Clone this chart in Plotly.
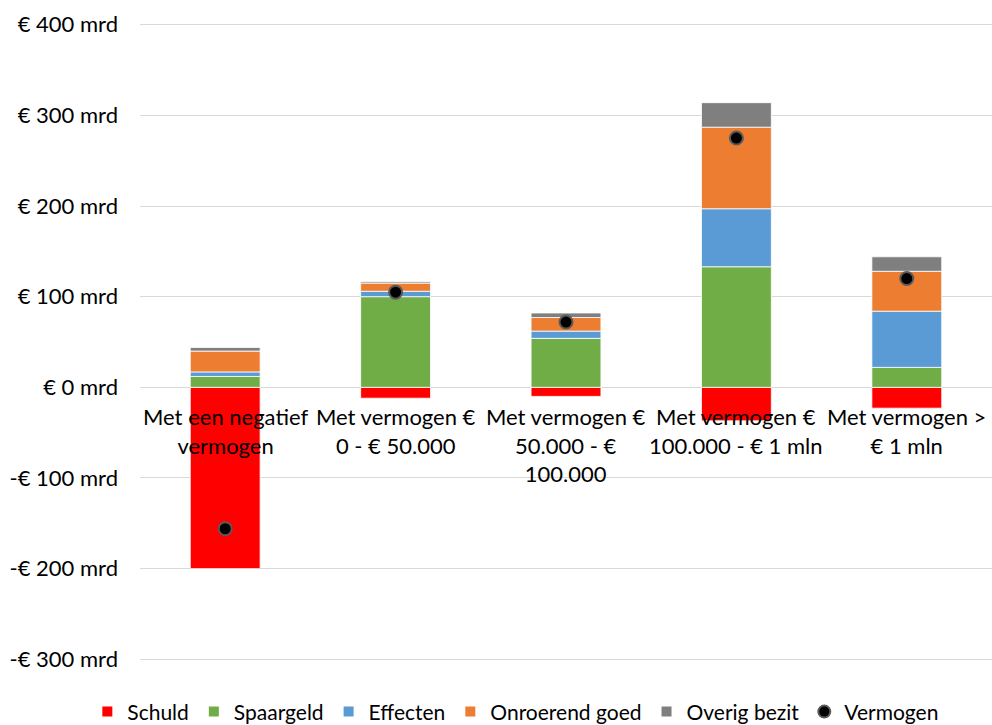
import plotly.graph_objects as go

categories = ["Met een negatief vermogen", "Met vermogen € 0 - € 50.000",
              "Met vermogen € 50.000 - € 100.000", "Met vermogen € 100.000 - € 1 mln",
              "Met vermogen > € 1 mln"]
category_labels = ["Met een negatief<br>vermogen", "Met vermogen €<br>0 - € 50.000",
                   "Met vermogen €<br>50.000 - €<br>100.000", "Met vermogen €<br>100.000 - € 1 mln",
                   "Met vermogen ><br>€ 1 mln"]

schuld = [-200, -12, -10, -37, -23]
spaargeld = [12, 100, 54, 133, 22]
effecten = [5, 6, 8, 64, 62]
onroerend_goed = [23, 9, 15, 90, 44]
overig_bezit = [4, 1.5, 5, 27, 16]
vermogen = [-156, 105, 72, 275, 120]

tick_vals = [-300, -200, -100, 0, 100, 200, 300, 400]
tick_text = ["-€ 300 mrd", "-€ 200 mrd", "-€ 100 mrd", "€ 0 mrd",
             "€ 100 mrd", "€ 200 mrd", "€ 300 mrd", "€ 400 mrd"]

FONT = "Lato"
FS = 22

fig = go.Figure()
bar_series = [
    ("Schuld", schuld, "#FF0000"),
    ("Spaargeld", spaargeld, "#70AD47"),
    ("Effecten", effecten, "#5B9BD5"),
    ("Onroerend goed", onroerend_goed, "#ED7D31"),
    ("Overig bezit", overig_bezit, "#7F7F7F"),
]
for name, vals, col in bar_series:
    fig.add_trace(go.Bar(x=categories, y=vals, name=name,
                         marker=dict(color=col, line=dict(color="white", width=0.8))))

fig.add_trace(go.Scatter(x=categories, y=vermogen, name="Vermogen", mode="markers",
                         marker=dict(color="black", size=13,
                                     line=dict(color="#595959", width=2))))

for cat, lab in zip(categories, category_labels):
    fig.add_annotation(x=cat, y=0, xref="x", yref="y", text=lab, showarrow=False,
                       yanchor="top", xanchor="center", yshift=-14,
                       font=dict(family=FONT, size=FS, color="black"))

fig.update_layout(
    width=992, height=725,
    barmode="relative", bargap=0.59,
    plot_bgcolor="white", paper_bgcolor="white",
    margin=dict(l=140, r=0, t=22, b=63, autoexpand=False),
    font=dict(family=FONT, size=FS, color="black"),
    showlegend=True,
    legend=dict(orientation="h", xref="container", yref="container",
                x=0.52, xanchor="center", y=0.018, yanchor="middle",
                font=dict(family=FONT, size=21, color="black"),
                itemsizing="constant", tracegroupgap=0, traceorder="normal"),
    xaxis=dict(showticklabels=False, showgrid=False, zeroline=False, showline=False,
               ticks=""),
    yaxis=dict(range=[-303, 403], tickvals=tick_vals, ticktext=tick_text,
               showgrid=True, gridcolor="#D9D9D9", gridwidth=1.3,
               zeroline=True, zerolinecolor="#D9D9D9", zerolinewidth=1.3,
               showline=False, ticks="", ticklabelstandoff=21,
               tickfont=dict(family=FONT, size=FS, color="black")),
)

fig.write_html("out.html", config={"displayModeBar": False},
               post_script="document.body.style.margin='0';document.body.style.padding='0';")
